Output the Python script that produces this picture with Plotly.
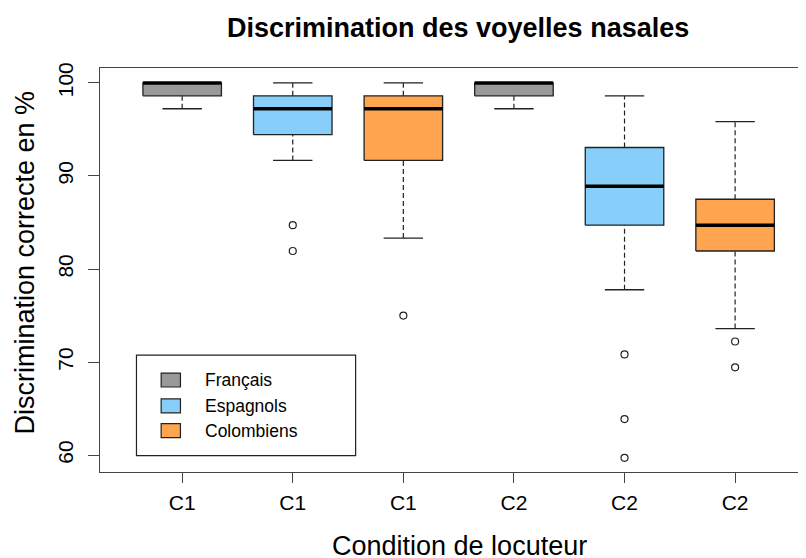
import plotly.graph_objects as go

# ---------------- data (values in %) ----------------
conditions = ["C1", "C1", "C1", "C2", "C2", "C2"]
groups = ["Français", "Espagnols", "Colombiens", "Français", "Espagnols", "Colombiens"]
whisk_low = [97.22, 91.67, 83.33, 97.22, 77.78, 73.61]
q1 = [98.61, 94.44, 91.67, 98.61, 84.72, 81.94]
median = [100.0, 97.22, 97.22, 100.0, 88.89, 84.72]
q3 = [100.0, 98.61, 98.61, 100.0, 93.06, 87.50]
whisk_high = [100.0, 100.0, 100.0, 100.0, 98.61, 95.83]
outliers = [[], [84.72, 81.94], [75.00], [], [70.83, 63.89, 59.72], [72.22, 69.44]]
legend_names = ["Français", "Espagnols", "Colombiens"]
colors = {"Français": "#999999", "Espagnols": "#87CEFA", "Colombiens": "#FFA54F"}
y_ticks = [60, 70, 80, 90, 100]

# ---------------- geometry / style ----------------
OFF = 8  # page body margin of the html page
W, H = 806 - OFF, 558 - OFF
# screen-pixel plot box: left 99.5, top 67.5, bottom 472.5, right = window edge
L, T = 99.5 - OFF, 67.5 - OFF
B = H - (472.5 - OFF)
R = 0
PW, PH = W - L - R, H - T - B
HALF_BOX = 0.355
HALF_CAP = 0.178
EDGE = "#222222"
FONT = "Liberation Sans, Arial, sans-serif"


def px(xs):
    return (xs - OFF - L) / PW


def py(ys):
    return (H - B - (ys - OFF)) / PH


fig = go.Figure()
positions = list(range(1, len(conditions) + 1))

for i, x in enumerate(positions):
    col = colors[groups[i]]
    # box body
    fig.add_trace(go.Scatter(
        x=[x - HALF_BOX, x + HALF_BOX, x + HALF_BOX, x - HALF_BOX, x - HALF_BOX],
        y=[q1[i], q1[i], q3[i], q3[i], q1[i]],
        mode="lines", fill="toself", fillcolor=col,
        line=dict(color=EDGE, width=1.3), showlegend=False, hoverinfo="skip"))
    # whiskers (dashed)
    for a, b in ((whisk_low[i], q1[i]), (q3[i], whisk_high[i])):
        if b > a:
            fig.add_trace(go.Scatter(
                x=[x, x], y=[a, b], mode="lines",
                line=dict(color=EDGE, width=1.2, dash="5px,3px"),
                showlegend=False, hoverinfo="skip"))
    # staples
    for v in (whisk_low[i], whisk_high[i]):
        fig.add_trace(go.Scatter(
            x=[x - HALF_CAP, x + HALF_CAP], y=[v, v], mode="lines",
            line=dict(color=EDGE, width=1.3), showlegend=False, hoverinfo="skip"))
    # median
    fig.add_trace(go.Scatter(
        x=[x - HALF_BOX, x + HALF_BOX], y=[median[i], median[i]], mode="lines",
        line=dict(color="#000000", width=3.5), showlegend=False, hoverinfo="skip"))
    # outliers
    if outliers[i]:
        fig.add_trace(go.Scatter(
            x=[x] * len(outliers[i]), y=outliers[i], mode="markers",
            marker=dict(symbol="circle-open", size=7, color=EDGE, line=dict(width=1.2)),
            showlegend=False, hoverinfo="skip"))

# ---------------- legend (drawn by hand, R style) ----------------
shapes = [dict(type="rect", xref="paper", yref="paper",
               x0=px(136), x1=px(355.3), y0=py(456), y1=py(355.3),
               line=dict(color=EDGE, width=1.2), fillcolor="white", layer="above")]
annotations = []
row_y = [380.3, 406.2, 431.0]
for name, ry in zip(legend_names, row_y):
    shapes.append(dict(type="rect", xref="paper", yref="paper",
                       x0=px(160.7), x1=px(180), y0=py(ry + 7), y1=py(ry - 7),
                       line=dict(color=EDGE, width=1.2), fillcolor=colors[name], layer="above"))
    annotations.append(dict(text=name, xref="paper", yref="paper",
                            x=px(203), y=py(ry), xanchor="left", yanchor="middle",
                            showarrow=False, font=dict(family=FONT, size=17.5, color="#000")))

# titles
annotations.append(dict(text="<b>Discrimination des voyelles nasales</b>", xref="paper", yref="paper",
                        x=px(458), y=py(27), xanchor="center", yanchor="middle", showarrow=False,
                        font=dict(family=FONT, size=27, color="#000")))
annotations.append(dict(text="Condition de locuteur", xref="paper", yref="paper",
                        x=px(459), y=py(547), xanchor="center", yanchor="middle", showarrow=False,
                        font=dict(family=FONT, size=27, color="#000")))
annotations.append(dict(text="Discrimination correcte en %", xref="paper", yref="paper",
                        x=px(24), y=py(263), xanchor="center", yanchor="middle", textangle=-90,
                        showarrow=False, font=dict(family=FONT, size=27, color="#000")))

fig.update_layout(
    width=W, height=H,
    margin=dict(l=L, r=R, t=T, b=B, autoexpand=False),
    paper_bgcolor="white", plot_bgcolor="white",
    showlegend=False,
    shapes=shapes, annotations=annotations,
    xaxis=dict(range=[0.257, 6.641], tickvals=positions, ticktext=conditions,
               showgrid=False, zeroline=False, showline=True, mirror=True,
               linecolor="#444444", linewidth=1.2, ticks="outside", ticklen=10,
               tickcolor="#444444", tickfont=dict(family=FONT, size=21, color="#000"),
               ticklabelstandoff=2, fixedrange=True),
    yaxis=dict(range=[58.2, 101.6], tickvals=y_ticks, ticktext=[str(v) for v in y_ticks],
               showgrid=False, zeroline=False, showline=True, mirror=False,
               linecolor="#444444", linewidth=1.2, ticks="outside", ticklen=11,
               tickcolor="#444444", tickangle=-90, tickfont=dict(family=FONT, size=21, color="#000"),
               ticklabelstandoff=7, fixedrange=True),
)

fig.write_html("out.html")
